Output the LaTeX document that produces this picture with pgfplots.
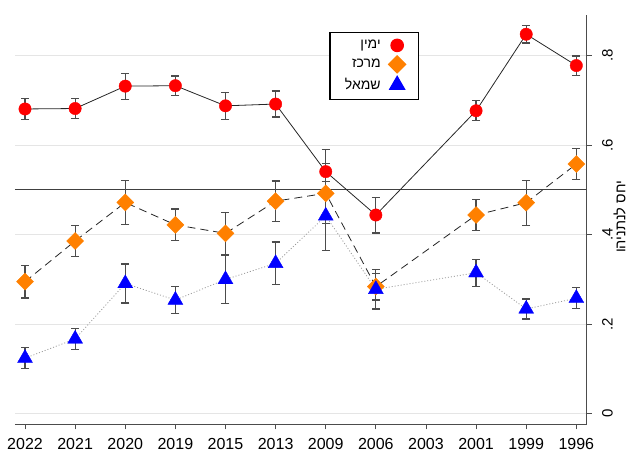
\documentclass[border=0pt]{standalone}
\usepackage{fontspec}
\setmainfont{Liberation Sans}
\newfontfamily\hebfont[Script=Hebrew]{Liberation Sans}
\TeXXeTstate=1
\usepackage{pgfplots}
\usepackage{pgfplotstable}
\pgfplotsset{compat=1.18}
\definecolor{orangeC}{RGB}{255,128,0}

% x: 0=2022,1=2021,2=2020,3=2019,4=2015,5=2013,6=2009,7=2006,8=2003,9=2001,10=1999,11=1996
\pgfplotstableread{
x y e
0 0.681 0.023
1 0.682 0.022
2 0.732 0.029
3 0.733 0.0215
4 0.688 0.0305
5 0.692 0.029
6 0.541 0.050
7 0.444 0.040
9 0.677 0.0225
10 0.848 0.0195
11 0.778 0.0215
}\tabR
\pgfplotstableread{
x y e
0 0.295 0.0365
1 0.386 0.034
2 0.472 0.050
3 0.422 0.0355
4 0.403 0.0475
5 0.475 0.045
6 0.4925 0.067
7 0.284 0.030
9 0.444 0.034
10 0.4715 0.0505
11 0.558 0.0345
}\tabC
\pgfplotstableread{
x y e
0 0.124 0.0235
1 0.167 0.0235
2 0.291 0.0435
3 0.254 0.030
4 0.300 0.054
5 0.336 0.0475
6 0.442 0.0765
7 0.278 0.044
9 0.315 0.030
10 0.234 0.0225
11 0.258 0.0235
}\tabL

\begin{document}
\begin{tikzpicture}
\useasboundingbox (-15pt,-44.7pt) rectangle (626pt,424.3pt);
\begin{axis}[
  at={(0,0)}, anchor=south west,
  width=571.7pt, height=409.3pt, scale only axis,
  xmin=-0.2, xmax=11.207, ymin=-0.0237, ymax=0.891,
  axis x line*=bottom, axis y line*=right,
  axis line style={-, draw=black!70, line width=0.9pt},
  xtick={0,...,11},
  xticklabels={2022,2021,2020,2019,2015,2013,2009,2006,2003,2001,1999,1996},
  ytick={0,0.2,0.4,0.6,0.8},
  yticklabels={0,.2,.4,.6,.8},
  tick align=outside, major tick length=5pt,
  tick style={draw=black!70, line width=0.9pt},
  ymajorgrids, major grid style={draw=black!10, line width=0.9pt},
  xticklabel style={yshift=-5pt, font=\fontsize{16}{18}\selectfont},
  yticklabel style={xshift=7pt, rotate=90, anchor=north, font=\fontsize{15}{18}\selectfont},
  ylabel={\hebfont\beginR יחס לנתניהו\endR},
  every axis y label/.style={at={(rel axis cs:1,0.507)}, xshift=33pt, rotate=90, anchor=center, font=\fontsize{14.5}{17}\selectfont},
  legend style={at={(0.5498,0.959)}, anchor=north west, draw=black, line width=1.2pt,
    font=\fontsize{14}{16}\selectfont, inner xsep=13pt, inner ysep=6pt, row sep=3.5pt, column sep=6pt},
  legend cell align=right,
  legend plot pos=right,
]
\addplot[black!75, line width=1pt, forget plot] coordinates {(-0.2,0.5) (11.207,0.5)};

\addplot[draw=none, no marks, forget plot, error bars/.cd, y dir=both, y explicit,
  error bar style={draw=black!70, line width=1.2pt},
  error mark options={rotate=90, mark size=4pt, draw=black!70, line width=1.2pt}]
  table[x=x, y=y, y error=e]{\tabR};
\addplot[draw=none, no marks, forget plot, error bars/.cd, y dir=both, y explicit,
  error bar style={draw=black!70, line width=1.2pt},
  error mark options={rotate=90, mark size=4pt, draw=black!70, line width=1.2pt}]
  table[x=x, y=y, y error=e]{\tabC};
\addplot[draw=none, no marks, forget plot, error bars/.cd, y dir=both, y explicit,
  error bar style={draw=black!70, line width=1.2pt},
  error mark options={rotate=90, mark size=4pt, draw=black!70, line width=1.2pt}]
  table[x=x, y=y, y error=e]{\tabL};

\addplot[only marks, mark=*, mark size=6.2pt, mark options={fill=red, draw=red}]
  table[x=x, y=y]{\tabR};
\addlegendentry{\hebfont\beginR ימין\endR}
\addplot[only marks, mark=square*, mark size=6pt, mark options={rotate=45, fill=orangeC, draw=orangeC}]
  table[x=x, y=y]{\tabC};
\addlegendentry{\hebfont\beginR מרכז\endR}
\addplot[only marks, mark=triangle*, mark size=8.6pt, mark options={fill=blue, draw=blue}]
  table[x=x, y=y]{\tabL};
\addlegendentry{\hebfont\beginR שמאל\endR}

\addplot[black!85, line width=0.8pt, no marks, forget plot] table[x=x, y=y]{\tabR};
\addplot[black!85, line width=0.8pt, no marks, forget plot, dash pattern=on 8pt off 5pt] table[x=x, y=y]{\tabC};
\addplot[black!40, line width=0.8pt, no marks, forget plot, dash pattern=on 1pt off 2pt] table[x=x, y=y]{\tabL};
\end{axis}
\end{tikzpicture}
\end{document}
